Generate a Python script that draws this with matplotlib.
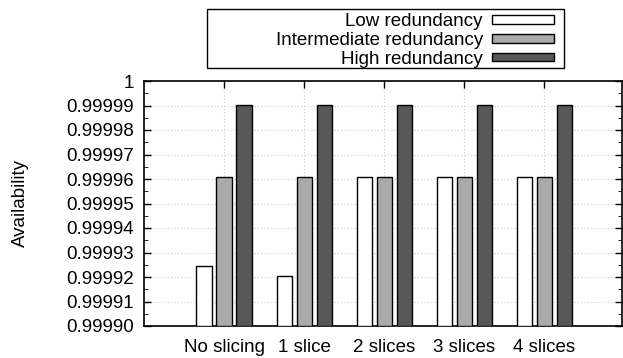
import numpy as np
import matplotlib
matplotlib.use('Agg')
import matplotlib.pyplot as plt
from matplotlib.ticker import MultipleLocator
from matplotlib.patches import Rectangle

plt.rcParams['font.family'] = ['Liberation Sans', 'DejaVu Sans']

# 数据
categories = ['No slicing', '1 slice', '2 slices', '3 slices', '4 slices']
low = [0.9999245, 0.9999205, 0.9999609, 0.9999609, 0.9999609]
intermediate = [0.9999609, 0.9999609, 0.9999609, 0.9999609, 0.9999609]
high = [0.99999, 0.99999, 0.99999, 0.99999, 0.99999]
series_names = ['Low redundancy', 'Intermediate redundancy', 'High redundancy']
y_ticks = [0.99990, 0.99991, 0.99992, 0.99993, 0.99994, 0.99995,
           0.99996, 0.99997, 0.99998, 0.99999, 1.0]
y_tick_labels = ['0.99990', '0.99991', '0.99992', '0.99993', '0.99994', '0.99995',
                 '0.99996', '0.99997', '0.99998', '0.99999', '1']

W, H = 623, 358
fig = plt.figure(figsize=(W / 100, H / 100), dpi=100)
ax = fig.add_axes([144 / W, 1 - 326 / H, 478 / W, 245 / H])

x = np.arange(len(categories))
w = 0.19
base = 0.9999
colors = ['white', '#aaaaaa', '#575757']
for i, (vals, name) in enumerate(zip([low, intermediate, high], series_names)):
    ax.bar(x + (i - 1) * 0.25, np.array(vals) - base, w, bottom=base,
           color=colors[i], edgecolor='black', linewidth=1, label=name, zorder=3)

ax.set_xlim(-1, 4.97)
ax.set_ylim(0.9999, 1.0)
ax.set_xticks(x)
ax.set_xticklabels(categories, fontsize=13.5)
ax.set_yticks(y_ticks)
ax.set_yticklabels(y_tick_labels, fontsize=13.5)
ax.yaxis.set_minor_locator(MultipleLocator(0.000005))
ax.tick_params(direction='in', top=True, right=True, length=5, width=1, pad=7)
ax.tick_params(axis='y', which='minor', direction='in', right=True, length=3)
ax.tick_params(axis='x', pad=9)
ax.grid(True, linestyle=(0, (1, 2)), color='#cccccc', linewidth=0.8, zorder=0)
ax.set_axisbelow(True)
for s in ax.spines.values():
    s.set_linewidth(1.2)

fig.text(20 / W, 1 - 203 / H, 'Availability', rotation=90,
         ha='center', va='center', fontsize=13.5)

# 图例外框
fig.patches.append(Rectangle((207 / W, 1 - 68 / H), 357 / W, 59 / H,
                             transform=fig.transFigure, fill=False,
                             edgecolor='black', linewidth=1))
leg = fig.legend(loc='upper right', bbox_to_anchor=(554 / W, 1 - 13 / H),
                 fontsize=13.5, markerfirst=False, frameon=False,
                 handlelength=3.3, handleheight=0.35, labelspacing=0.1,
                 borderpad=0, handletextpad=0.5, borderaxespad=0)
for t in leg.get_texts():
    t.set_ha('right')

fig.savefig('out.png', dpi=100)
